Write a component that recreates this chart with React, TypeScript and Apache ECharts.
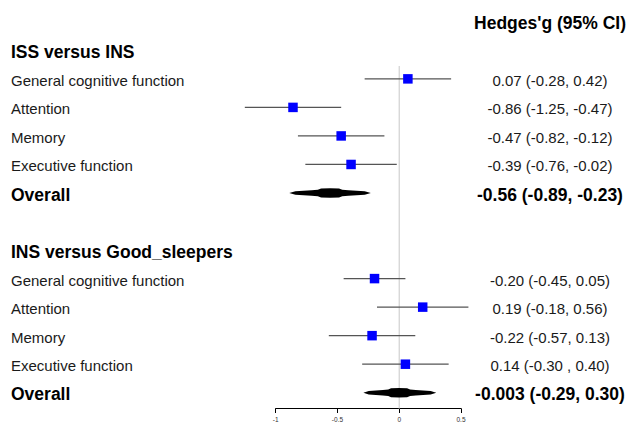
import React, { useEffect, useRef } from "react";
import * as echarts from "echarts";

const colHeader = "Hedges'g (95% CI)";
const groups = ["ISS versus INS", "INS versus Good_sleepers"];
const outcomes = ["General cognitive function", "Attention", "Memory", "Executive function"];

// plotted point estimates (as drawn in the picture)
const est1 = [0.07, -0.86, -0.47, -0.39];
const lo1 = [-0.28, -1.25, -0.82, -0.76];
const hi1 = [0.42, -0.47, -0.12, -0.02];
const ci1 = ["0.07 (-0.28, 0.42)", "-0.86 (-1.25, -0.47)", "-0.47 (-0.82, -0.12)", "-0.39 (-0.76, -0.02)"];
const overall1 = [-0.56, -0.89, -0.23];
const overallLabel1 = "-0.56 (-0.89, -0.23)";

const est2 = [-0.2, 0.19, -0.22, 0.05];
const lo2 = [-0.45, -0.18, -0.57, -0.3];
const hi2 = [0.05, 0.56, 0.13, 0.4];
const ci2 = ["-0.20 (-0.45, 0.05)", "0.19 (-0.18, 0.56)", "-0.22 (-0.57, 0.13)", "0.14 (-0.30 , 0.40)"];
const overall2 = [-0.003, -0.29, 0.3];
const overallLabel2 = "-0.003 (-0.29, 0.30)";

const xTicks = [-1, -0.5, 0, 0.5];

const FONT = '"Liberation Sans", Arial, Helvetica, sans-serif';

type Row = {
  kind: string;
  row: number;
  label?: string;
  est?: number;
  lo?: number;
  hi?: number;
  ci?: string;
};

function buildRows(): Row[] {
  const rows: Row[] = [];
  rows.push({ kind: "ref", row: 0 });
  rows.push({ kind: "colhead", row: -1, label: colHeader });
  const sets = [
    { est: est1, lo: lo1, hi: hi1, ci: ci1, ov: overall1, ovl: overallLabel1 },
    { est: est2, lo: lo2, hi: hi2, ci: ci2, ov: overall2, ovl: overallLabel2 },
  ];
  sets.forEach((s, g) => {
    const base = g * 7;
    rows.push({ kind: "header", row: base, label: groups[g] });
    outcomes.forEach((o, k) => {
      rows.push({ kind: "study", row: base + 1 + k, label: o, est: s.est[k], lo: s.lo[k], hi: s.hi[k], ci: s.ci[k] });
    });
    rows.push({ kind: "overall", row: base + 5, label: "Overall", est: s.ov[0], lo: s.ov[1], hi: s.ov[2], ci: s.ovl });
  });
  return rows;
}

const rows = buildRows();

const LEFT_X = 11;
const RIGHT_CX = 550;
const MARK_DY = -1.5;

export default function App() {
  const ref = useRef<HTMLDivElement>(null);
  useEffect(() => {
    if (!ref.current) return;
    const chart = echarts.init(ref.current, null, { renderer: "svg" });
    const profile = [
      [1, 0],
      [0.85, 1.8],
      [0.45, 2.8],
      [0.3, 3.3],
      [0.22, 4.5],
      [0, 4.7],
    ];
    const renderItem = (params: any, api: any) => {
      const r = rows[params.dataIndex];
      if (r.kind === "ref") {
        const p1 = api.coord([0, 0.5]);
        const p2 = api.coord([0, 12.5]);
        return {
          type: "line",
          shape: { x1: p1[0], y1: p1[1], x2: p2[0], y2: p2[1] },
          style: { stroke: "#d0d0d0", lineWidth: 1.2 },
        };
      }
      const yc = api.coord([0, r.row])[1];
      if (r.kind === "colhead") {
        return {
          type: "text",
          x: RIGHT_CX,
          y: yc,
          style: { text: r.label, fontFamily: FONT, fontSize: 17.5, fontWeight: "bold", fill: "#000", align: "center", verticalAlign: "middle" },
        };
      }
      if (r.kind === "header") {
        return {
          type: "text",
          x: LEFT_X,
          y: yc,
          style: { text: r.label, fontFamily: FONT, fontSize: 17.5, fontWeight: "bold", fill: "#000", align: "left", verticalAlign: "middle" },
        };
      }
      const cx = api.coord([r.est, r.row])[0];
      const lx = api.coord([r.lo, r.row])[0];
      const rx = api.coord([r.hi, r.row])[0];
      const ym = yc + MARK_DY;
      const children: any[] = [];
      if (r.kind === "study") {
        children.push({
          type: "line",
          shape: { x1: lx, y1: ym, x2: rx, y2: ym },
          style: { stroke: "#555", lineWidth: 1.3 },
        });
        const s = 9.5;
        children.push({
          type: "rect",
          shape: { x: cx - s / 2, y: ym - s / 2, width: s, height: s },
          style: { fill: "#0000ff" },
        });
        children.push({
          type: "text",
          x: LEFT_X,
          y: yc,
          style: { text: r.label, fontFamily: FONT, fontSize: 15, fill: "#1a1a1a", align: "left", verticalAlign: "middle" },
        });
        children.push({
          type: "text",
          x: RIGHT_CX,
          y: yc,
          style: { text: r.ci, fontFamily: FONT, fontSize: 15, fill: "#1a1a1a", align: "center", verticalAlign: "middle" },
        });
      } else {
        const top: number[][] = [];
        for (let i = 0; i < profile.length; i++) {
          const [f, h] = profile[i];
          top.push([cx - f * (cx - lx), ym - h]);
        }
        for (let i = profile.length - 2; i >= 0; i--) {
          const [f, h] = profile[i];
          top.push([cx + f * (rx - cx), ym - h]);
        }
        const bottom: number[][] = [];
        for (let i = top.length - 2; i >= 1; i--) {
          const p = top[i];
          bottom.push([p[0], ym + (ym - p[1])]);
        }
        children.push({
          type: "polygon",
          shape: { points: top.concat(bottom) },
          style: { fill: "#000" },
        });
        children.push({
          type: "text",
          x: LEFT_X,
          y: yc,
          style: { text: r.label, fontFamily: FONT, fontSize: 17.5, fontWeight: "bold", fill: "#000", align: "left", verticalAlign: "middle" },
        });
        children.push({
          type: "text",
          x: RIGHT_CX,
          y: yc,
          style: { text: r.ci, fontFamily: FONT, fontSize: 17.5, fontWeight: "bold", fill: "#000", align: "center", verticalAlign: "middle" },
        });
      }
      return { type: "group", children };
    };

    chart.setOption({
      animation: false,
      backgroundColor: "#fff",
      grid: { left: 275.7, right: 168, top: 66.1, bottom: 16.5, containLabel: false },
      xAxis: {
        type: "value",
        min: xTicks[0],
        max: xTicks[xTicks.length - 1],
        interval: 0.5,
        splitLine: { show: false },
        axisLine: { show: true, lineStyle: { color: "#000", width: 1 } },
        axisTick: { show: true, length: 4.5, lineStyle: { color: "#000", width: 1 } },
        axisLabel: { fontSize: 6.5, color: "#333", margin: 7, fontFamily: FONT },
      },
      yAxis: {
        type: "value",
        inverse: true,
        min: 0.5,
        max: 12.5,
        show: false,
        splitLine: { show: false },
      },
      series: [
        {
          type: "custom",
          clip: false,
          renderItem,
          data: rows.map((r) => [r.est ?? 0, r.row]),
          encode: { x: 0, y: 1 },
          silent: true,
        },
      ],
    });
    return () => chart.dispose();
  }, []);
  return (
    <div
      ref={ref}
      style={{ position: "fixed", left: 0, top: 0, width: 629, height: 425, background: "#fff" }}
    />
  );
}
